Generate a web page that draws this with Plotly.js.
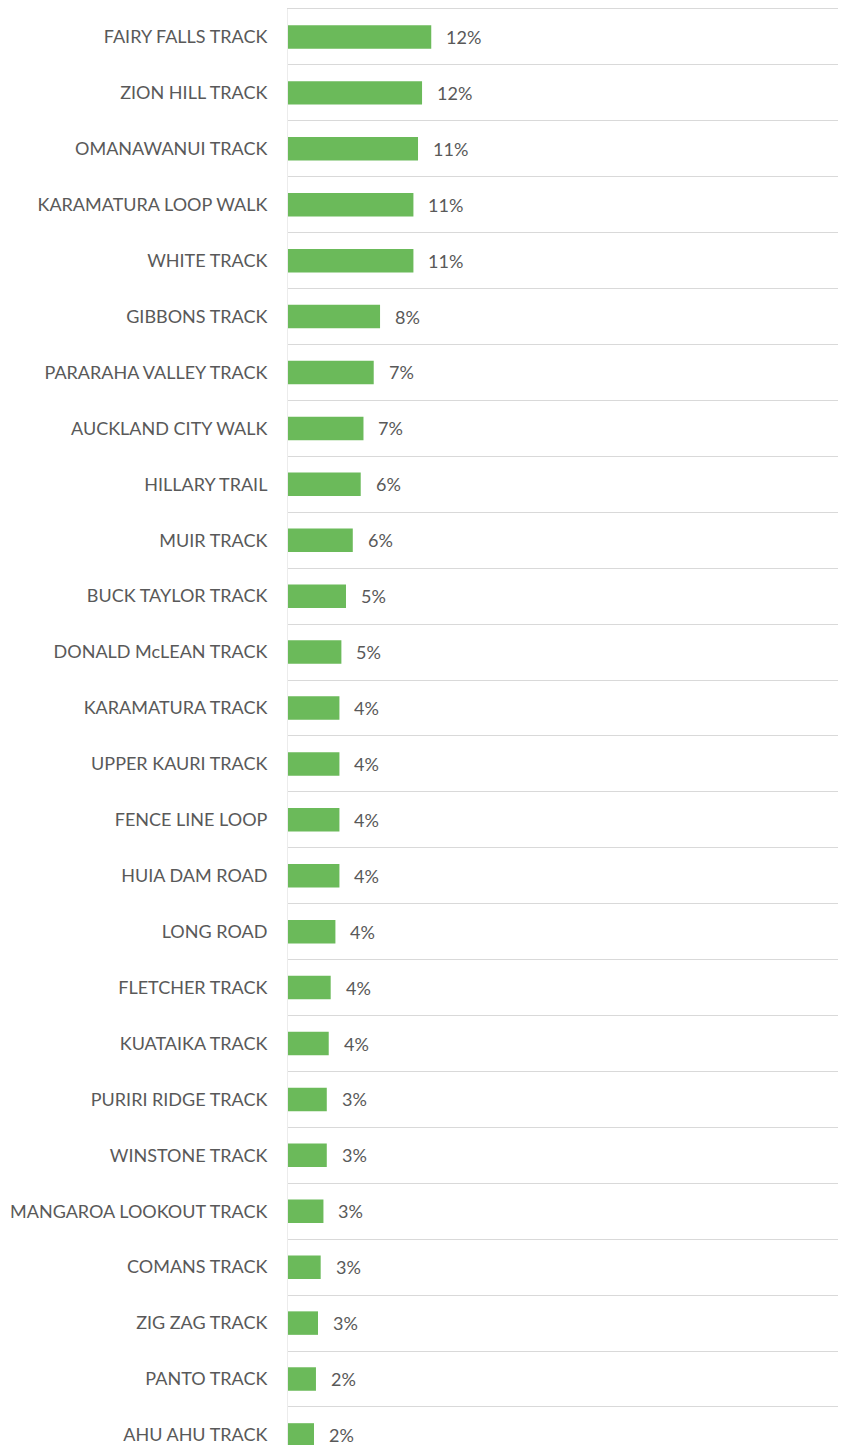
<!DOCTYPE html>
<html>
<head>
<meta charset="utf-8">
<script src="https://cdn.plot.ly/plotly-3.0.1.min.js"></script>
<style>
  html, body { margin: 0; padding: 0; background: #ffffff; }
  #chart { width: 859px; height: 1445px; }
</style>
</head>
<body>
<div id="chart"></div>
<script>
const categories = [
  "FAIRY FALLS TRACK", "ZION HILL TRACK", "OMANAWANUI TRACK", "KARAMATURA LOOP WALK",
  "WHITE TRACK", "GIBBONS TRACK", "PARARAHA VALLEY TRACK", "AUCKLAND CITY WALK",
  "HILLARY TRAIL", "MUIR TRACK", "BUCK TAYLOR TRACK", "DONALD McLEAN TRACK",
  "KARAMATURA TRACK", "UPPER KAURI TRACK", "FENCE LINE LOOP", "HUIA DAM ROAD",
  "LONG ROAD", "FLETCHER TRACK", "KUATAIKA TRACK", "PURIRI RIDGE TRACK",
  "WINSTONE TRACK", "MANGAROA LOOKOUT TRACK", "COMANS TRACK", "ZIG ZAG TRACK",
  "PANTO TRACK", "AHU AHU TRACK"
];
// share of respondents (%)
const shares = [
  12.45, 11.65, 11.3, 10.9,
  10.9, 8.0, 7.45, 6.56,
  6.32, 5.63, 5.04, 4.64,
  4.47, 4.47, 4.47, 4.47,
  4.12, 3.71, 3.54, 3.37,
  3.37, 3.08, 2.84, 2.61,
  2.43, 2.26
];
const labels = shares.map(v => Math.round(v) + "%");

const FONT = "Lato, 'Open Sans', sans-serif";

const trace = {
  type: "bar",
  orientation: "h",
  x: shares,
  y: categories,
  marker: { color: "#6bba5a" },
  width: 0.42,
  hoverinfo: "skip"
};

const annotations = categories.map((c, i) => ({
  x: shares[i],
  y: c,
  xref: "x",
  yref: "y",
  text: labels[i],
  showarrow: false,
  xanchor: "left",
  yanchor: "middle",
  xshift: 13,
  font: { family: FONT, size: 18, color: "#595959" }
}));

const layout = {
  width: 859,
  height: 1445,
  margin: { l: 288, r: 21, t: 8.5, b: 0, pad: 0 },
  paper_bgcolor: "#ffffff",
  plot_bgcolor: "#ffffff",
  showlegend: false,
  bargap: 0.58,
  xaxis: {
    range: [0, 47.8],
    side: "top",
    showgrid: false,
    zeroline: false,
    showline: true,
    linecolor: "#d9d9d9",
    linewidth: 1,
    showticklabels: false,
    ticks: ""
  },
  yaxis: {
    type: "category",
    range: [25.18, -0.5],
    tickson: "boundaries",
    showgrid: true,
    gridcolor: "#d9d9d9",
    gridwidth: 1,
    showline: true,
    linecolor: "#ececec",
    linewidth: 1,
    ticks: "",
    ticklabelstandoff: 16,
    tickfont: { family: FONT, size: 18, color: "#595959" },
    zeroline: false
  },
  annotations: annotations
};

Plotly.newPlot("chart", [trace], layout, { displayModeBar: false, staticPlot: true });
</script>
</body>
</html>
